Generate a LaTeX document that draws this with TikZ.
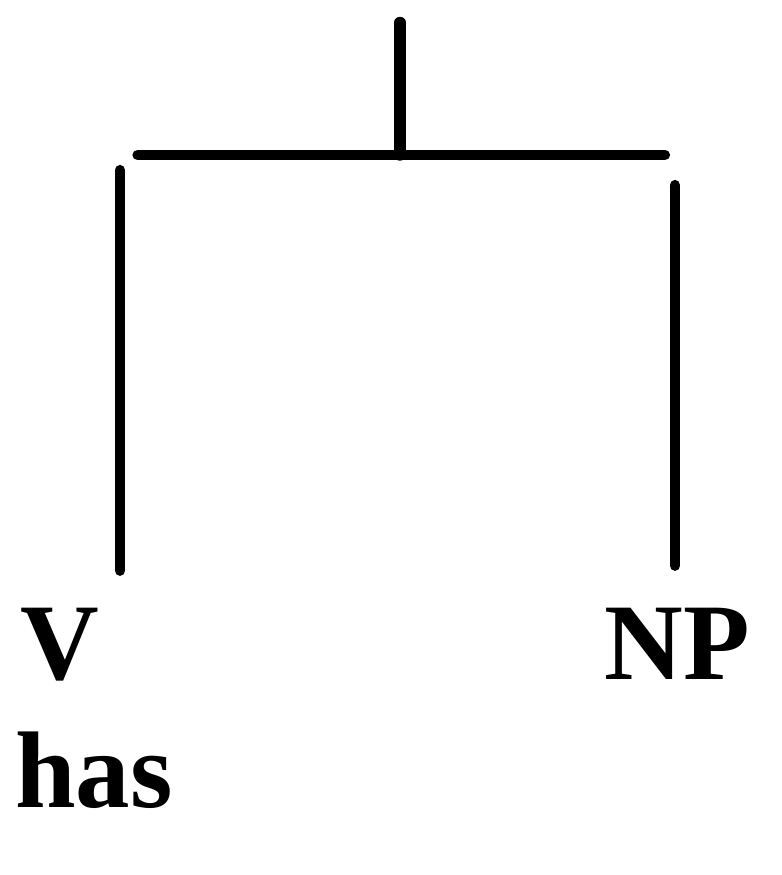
\documentclass[tikz,border=0pt]{standalone}
\usepackage{fontspec}
\setmainfont{Liberation Serif}
\usepackage{tikz}
\usetikzlibrary{positioning,calc}

\begin{document}
\begin{tikzpicture}[
  cat/.style={font=\fontsize{62}{70}\selectfont\bfseries, inner sep=0pt},
  branch/.style={line width=5.8pt, line cap=round},
  stem/.style={line width=6.5pt, line cap=round}
]
  \useasboundingbox (0,0) rectangle (15.62,17.5);

  % Categories
  \node[cat, anchor=base west] (v) at (0.4,3.9) {V};
  \node[cat, anchor=base east] (np) at (15.0,3.9) {NP};
  \node[cat, anchor=base west] (has) at (0.3,1.35) {has};

  % Mother stem and bar
  \coordinate (top) at (8.0,17.05);
  \coordinate (barL) at (2.75,14.4);
  \coordinate (barR) at (13.3,14.4);
  \draw[stem] (top) -- (top |- barL);
  \draw[branch] (barL) -- (barR);

  % Daughters
  \coordinate (vtop) at (2.4,14.1);
  \coordinate (nptop) at (13.5,13.8);
  \draw[branch] (vtop) -- ($(vtop |- v.north)+(0,0.75)$);
  \draw[branch] (nptop) -- ($(nptop |- np.north)+(0,0.85)$);
\end{tikzpicture}
\end{document}
